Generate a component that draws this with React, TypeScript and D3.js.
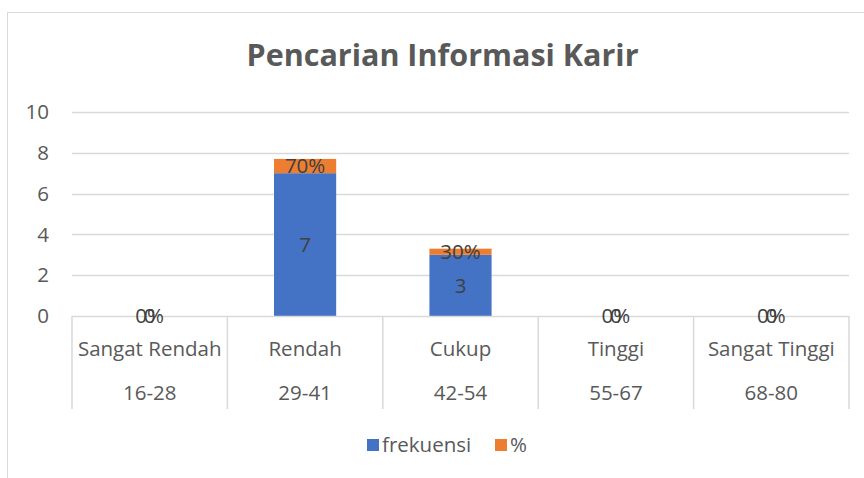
import React from "react";
import * as d3 from "d3";

const categories = ["Sangat Rendah", "Rendah", "Cukup", "Tinggi", "Sangat Tinggi"];
const ranges = ["16-28", "29-41", "42-54", "55-67", "68-80"];
const frekuensi = [0, 7, 3, 0, 0];
const persen = [0, 0.7, 0.3, 0, 0];
const yTicks = [0, 2, 4, 6, 8, 10];
const title = "Pencarian Informasi Karir";
const seriesNames = ["frekuensi", "%"];
const colors = ["#4472C4", "#ED7D31"];

const FONT = "'Open Sans', Lato, sans-serif";
const FS = 20.5;

export default function App() {
  const W = 864, H = 478;
  const left = 72, right = 849, top = 112, bottom = 316;
  const x = d3.scaleBand<string>().domain(categories).range([left, right]).paddingInner(0).paddingOuter(0);
  const y = d3.scaleLinear().domain([0, 10]).range([bottom, top]);
  const bw = x.bandwidth() * 0.4;
  const stacked = d3.stack<any>().keys(["f", "p"])(categories.map((c, i) => ({ c, f: frekuensi[i], p: persen[i] })));
  const boundaries = categories.map((c) => x(c)!).concat([right]);

  return (
    <svg width={W} height={H} style={{ position: "absolute", left: 0, top: 0, background: "#fff" }}>
      <rect x={7.5} y={12.5} width={W} height={H} fill="#fff" stroke="#d9d9d9" strokeWidth={1} />
      <text x={442.5} y={66} textAnchor="middle" fontFamily={FONT} fontWeight="bold" fontSize={30.5} fill="#595959">{title}</text>
      {yTicks.map((t) => (
        <g key={t}>
          {t > 0 && <line x1={left} x2={right} y1={Math.round(y(t)) + 0.5} y2={Math.round(y(t)) + 0.5} stroke="#d9d9d9" strokeWidth={1.5} />}
          <text x={49} y={y(t)} dy="0.35em" textAnchor="end" fontFamily={FONT} fontSize={FS} fill="#595959">{t}</text>
        </g>
      ))}
      {stacked.map((s, si) => (
        <g key={si}>
          {s.map((d, i) => (
            <rect key={i} x={x(categories[i])! + (x.bandwidth() - bw) / 2} width={bw} y={y(d[1])} height={y(d[0]) - y(d[1])} fill={colors[si]} />
          ))}
        </g>
      ))}
      <line x1={left} x2={right} y1={bottom + 0.5} y2={bottom + 0.5} stroke="#d9d9d9" strokeWidth={1.5} />
      {boundaries.map((b, i) => (
        <line key={i} x1={b} x2={b} y1={bottom} y2={409} stroke="#d9d9d9" strokeWidth={1.5} />
      ))}
      {categories.map((c, i) => (
        <g key={c}>
          <text x={x(c)! + x.bandwidth() / 2} y={349} dy="0.35em" textAnchor="middle" fontFamily={FONT} fontSize={FS} fill="#595959">{c}</text>
          <text x={x(c)! + x.bandwidth() / 2} y={393} dy="0.35em" textAnchor="middle" fontFamily={FONT} fontSize={FS} fill="#595959">{ranges[i]}</text>
        </g>
      ))}
      {stacked.map((s, si) => (
        <g key={"l" + si}>
          {s.map((d, i) => (
            <text key={i} x={x(categories[i])! + x.bandwidth() / 2} y={y((d[0] + d[1]) / 2)} dy="0.35em" textAnchor="middle" fontFamily={FONT} fontSize={FS} fill="#404040">
              {si === 0 ? d3.format("d")(frekuensi[i]) : d3.format(".0%")(persen[i])}
            </text>
          ))}
        </g>
      ))}
      <g>
        <rect x={367} y={439} width={12} height={12} fill={colors[0]} />
        <text x={382} y={445} dy="0.35em" fontFamily={FONT} fontSize={FS} fill="#595959">{seriesNames[0]}</text>
        <rect x={495} y={439} width={12} height={12} fill={colors[1]} />
        <text x={510} y={445} dy="0.35em" fontFamily={FONT} fontSize={FS} fill="#595959">{seriesNames[1]}</text>
      </g>
    </svg>
  );
}
